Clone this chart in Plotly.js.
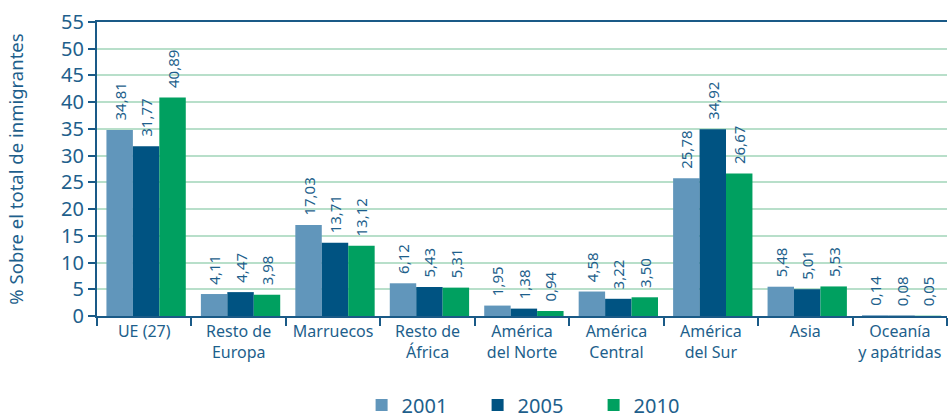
<!DOCTYPE html>
<html><head><meta charset="utf-8">
<script src="https://cdn.plot.ly/plotly-3.0.1.min.js"></script>
<style>html,body{margin:0;padding:0;background:#fff}#chart{width:948px;height:418px}</style>
</head><body><div id="chart"></div>
<script>
const categories = ["UE (27)", "Resto de<br>Europa", "Marruecos", "Resto de<br>África", "América<br>del Norte", "América<br>Central", "América<br>del Sur", "Asia", "Oceanía<br>y apátridas"];
const values2001 = [34.81, 4.11, 17.03, 6.12, 1.95, 4.58, 25.78, 5.48, 0.14];
const values2005 = [31.77, 4.47, 13.71, 5.43, 1.38, 3.22, 34.92, 5.01, 0.08];
const values2010 = [40.89, 3.98, 13.12, 5.31, 0.94, 3.50, 26.67, 5.53, 0.05];
const seriesNames = ["2001", "2005", "2010"];
const yTicks = [0, 5, 10, 15, 20, 25, 30, 35, 40, 45, 50, 55];

const colors = ["#6196bb", "#005382", "#00a060"];
const FONT = "Noto Sans, Open Sans, sans-serif";
const txtColor = "#1e5f8c";
const barW = 0.28;
const startOff = -0.40;
const allVals = [values2001, values2005, values2010];
const traces = allVals.map((v, i) => ({
  type: "bar", name: seriesNames[i], x: categories, y: v,
  width: barW, offset: startOff + i * barW,
  marker: {color: colors[i]},
  texttemplate: "\u00a0\u2009%{y:.2f}", textposition: "outside", textangle: -90,
  constraintext: "none", cliponaxis: false,
  textfont: {family: FONT, size: 15, color: txtColor},
  hoverinfo: "skip"
}));
const layout = {
  width: 948, height: 418,
  margin: {l: 97, r: 1, t: 22, b: 102},
  separators: ",.",
  barmode: "group", bargap: 0.16, bargroupgap: 0,
  paper_bgcolor: "#fff", plot_bgcolor: "#fff",
  font: {family: FONT, color: txtColor},
  xaxis: {
    type: "category", tickson: "boundaries", ticks: "outside", ticklen: 8, tickwidth: 2, tickcolor: "#1a5a87",
    showline: true, linecolor: "#1a5a87", linewidth: 2, mirror: true, showgrid: false,
    tickfont: {family: FONT, size: 16, color: txtColor}, fixedrange: true
  },
  yaxis: {
    range: [0, 55], tickvals: yTicks, ticks: "outside", ticklen: 7, tickwidth: 2, tickcolor: "#1a5a87",
    showline: true, linecolor: "#1a5a87", linewidth: 2,
    showgrid: true, gridcolor: "#b8dfca", gridwidth: 2, zeroline: false,
    tickfont: {family: FONT, size: 20, color: txtColor},
    title: {text: "% Sobre el total de inmigrantes", font: {family: FONT, size: 18.5, color: txtColor}, standoff: 33}
  },
  legend: {orientation: "h", xref: "paper", x: 0.516, xanchor: "center", yref: "container", y: 0.031, yanchor: "middle",
    font: {family: FONT, size: 20, color: txtColor}, entrywidth: 71, itemwidth: 30},
  showlegend: true
};
Plotly.newPlot("chart", traces, layout, {displayModeBar: false, staticPlot: true});
</script></body></html>
